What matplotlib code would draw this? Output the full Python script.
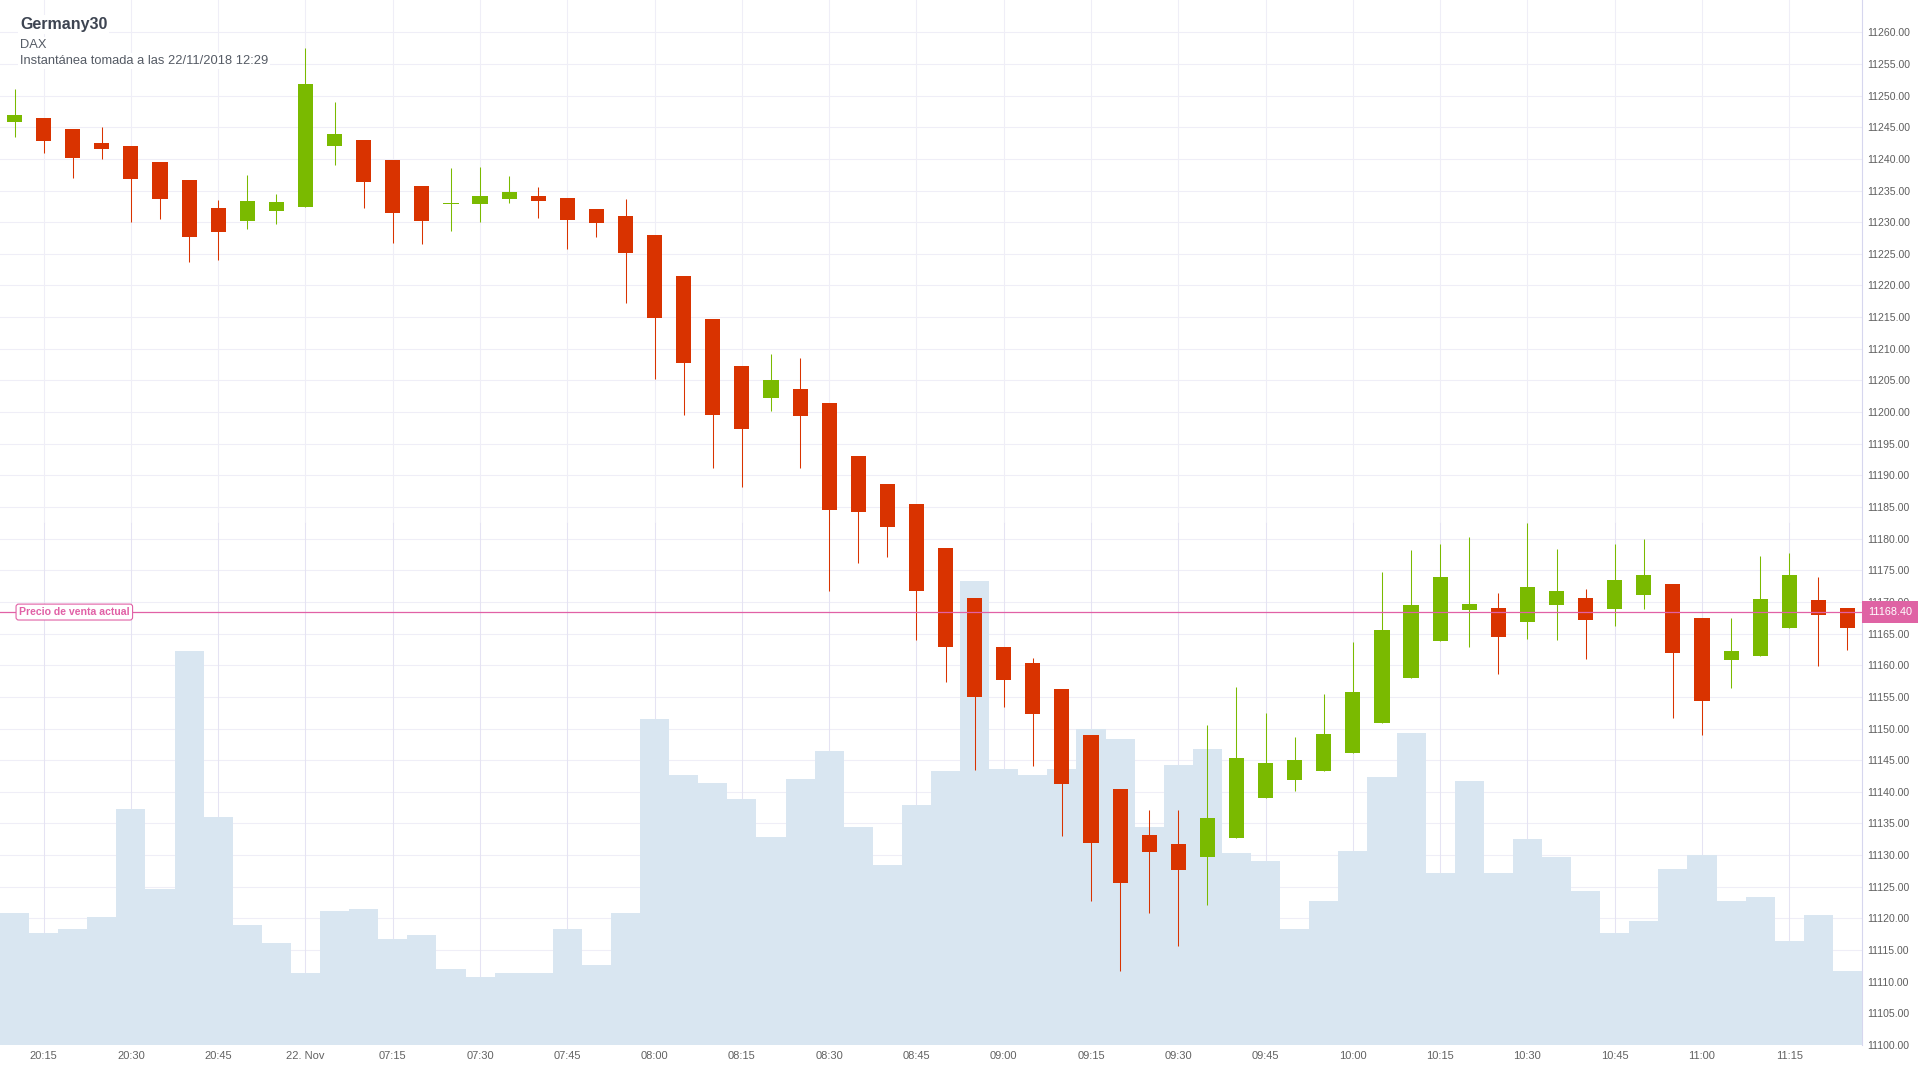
import numpy as np
import pandas as pd
import matplotlib
matplotlib.use("Agg")
import matplotlib.pyplot as plt
import matplotlib.transforms as mtransforms


# -------------------------------------------------
# Data (5 minute candles, Germany30)
# -------------------------------------------------

OPENS = [
    11245.9, 11246.4, 11244.7, 11242.5, 11242.0, 11239.5, 11236.6, 11232.2,
    11230.2, 11231.8, 11232.4, 11242.1, 11243.0, 11239.8, 11235.7, 11232.9,
    11232.9, 11233.6, 11234.2, 11233.8, 11232.1, 11231.0, 11228.0, 11221.5,
    11214.7, 11207.2, 11202.2, 11203.7, 11201.5, 11193.1, 11188.7, 11185.4,
    11178.6, 11170.7, 11162.9, 11160.3, 11156.3, 11148.9, 11140.4, 11133.1,
    11131.8, 11129.7, 11132.7, 11139.0, 11141.8, 11143.3, 11146.1, 11150.8,
    11158.0, 11163.8, 11168.7, 11169.1, 11166.8, 11169.5, 11170.6, 11168.9,
    11171.1, 11172.8, 11167.4, 11160.9, 11161.5, 11165.9, 11170.3, 11169.1,
]

HIGHS = [
    11251.0, 11246.4, 11244.7, 11245.0, 11242.0, 11239.5, 11236.6, 11233.5,
    11237.4, 11234.4, 11257.5, 11249.0, 11243.0, 11239.8, 11235.7, 11238.5,
    11238.7, 11237.3, 11235.6, 11233.8, 11232.1, 11233.7, 11228.0, 11221.5,
    11214.7, 11207.2, 11209.2, 11208.6, 11201.5, 11193.1, 11188.7, 11185.4,
    11178.6, 11170.7, 11162.9, 11161.2, 11156.3, 11148.9, 11140.4, 11137.2,
    11137.1, 11150.5, 11156.5, 11152.5, 11148.7, 11155.5, 11163.7, 11174.8,
    11178.2, 11179.1, 11180.2, 11171.4, 11182.4, 11178.4, 11172.1, 11179.1,
    11179.9, 11172.8, 11167.4, 11167.5, 11177.2, 11177.7, 11173.9, 11169.1,
]

LOWS = [
    11243.5, 11241.0, 11237.0, 11240.0, 11230.0, 11230.5, 11223.7, 11224.0,
    11228.9, 11229.7, 11232.4, 11239.1, 11232.3, 11226.7, 11226.6, 11228.6,
    11230.1, 11233.1, 11230.7, 11225.8, 11227.6, 11217.2, 11205.2, 11199.6,
    11191.1, 11188.1, 11200.1, 11191.1, 11171.8, 11176.1, 11177.1, 11164.0,
    11157.3, 11143.5, 11153.4, 11144.1, 11133.0, 11122.7, 11111.7, 11120.8,
    11115.6, 11122.1, 11132.7, 11139.0, 11140.1, 11143.3, 11146.1, 11150.8,
    11158.0, 11163.8, 11162.9, 11158.6, 11164.2, 11164.0, 11161.0, 11166.2,
    11168.9, 11151.6, 11149.0, 11156.4, 11161.5, 11165.9, 11159.9, 11162.4,
]

CLOSES = [
    11246.9, 11242.9, 11240.2, 11241.6, 11236.8, 11233.7, 11227.7, 11228.5,
    11233.3, 11233.2, 11251.8, 11243.9, 11236.4, 11231.5, 11230.2, 11233.1,
    11234.2, 11234.8, 11233.3, 11230.3, 11229.9, 11225.1, 11214.8, 11207.8,
    11199.5, 11197.4, 11205.0, 11199.3, 11184.5, 11184.2, 11181.9, 11171.7,
    11162.9, 11155.0, 11157.6, 11152.3, 11141.2, 11131.9, 11125.6, 11130.5,
    11127.6, 11135.8, 11145.4, 11144.6, 11145.0, 11149.1, 11155.7, 11165.5,
    11169.5, 11174.0, 11169.6, 11164.5, 11172.3, 11171.7, 11167.2, 11173.4,
    11174.3, 11162.0, 11154.4, 11162.2, 11170.4, 11174.3, 11167.9, 11165.9,
]

# volume in relative units (axis is hidden in the original)
VOLUMES = [
    33, 28, 29, 32, 59, 39, 98.5, 57,
    30, 25.5, 18, 33.5, 34, 26.5, 27.5, 19,
    17, 18, 18, 29, 20, 33, 81.5, 67.5,
    65.5, 61.5, 52, 66.5, 73.5, 54.5, 45, 60,
    68.5, 116, 69, 67.5, 69, 79, 76.5, 54.5,
    70, 74, 48, 46, 29, 36, 48.5, 67,
    78, 43, 66, 43, 51.5, 47, 38.5, 28,
    31, 44, 47.5, 36, 37, 26, 32.5, 18.5,
]

SESSION_1 = pd.date_range("2018-11-21 20:10", "2018-11-21 20:55", freq="5min")
SESSION_2 = pd.date_range("2018-11-22 07:00", "2018-11-22 11:25", freq="5min")
TIMES = list(SESSION_1) + list(SESSION_2)

CURRENT_PRICE = 11168.40

TITLE = "Germany30"
SUBTITLE = "DAX"
SNAPSHOT = "Instantánea tomada a las 22/11/2018 12:29"


# -------------------------------------------------
# Style
# -------------------------------------------------

UP = "#7aba00"
DOWN = "#d93300"
VOL = "#d9e6f1"
PINK = "#e161a6"
GRID = "#efeef7"
GRID_LOW = "#e5e3f3"
FONT = ["Liberation Sans", "DejaVu Sans"]

plt.rcParams["font.family"] = FONT

W, H = 1920, 1080
PLOT_W, PLOT_H, PLOT_B = 1862, 1045, 35

Y_MIN, Y_MAX = 11100, 11265.1


# -------------------------------------------------
# Figure
# -------------------------------------------------

fig = plt.figure(figsize=(W / 100, H / 100), dpi=100)
rect = [0, PLOT_B / H, PLOT_W / W, PLOT_H / H]

ax = fig.add_axes(rect)
ax_vol = fig.add_axes(rect)
ax_c = fig.add_axes(rect)

n = len(OPENS)
x = np.arange(n)

for a in (ax, ax_vol, ax_c):
    a.set_xlim(-0.5, n - 0.5)

ax.set_ylim(Y_MIN, Y_MAX)
ax_c.set_ylim(Y_MIN, Y_MAX)
ax_vol.set_ylim(0, PLOT_H / 4)

ax_vol.patch.set_visible(False)
ax_c.patch.set_visible(False)
ax_vol.axis("off")
ax_c.axis("off")


# -------------------------------------------------
# Grid and axes
# -------------------------------------------------

yticks = np.arange(11100, 11261, 5)

for p in yticks:
    ax.axhline(p, color=GRID, lw=0.75, zorder=0)

tick_pos = []
tick_lab = []
for i, t in enumerate(TIMES):
    if t.minute % 15 == 0:
        tick_pos.append(i)
        if t.hour == 7 and t.minute == 0:
            tick_lab.append("22. Nov")
        else:
            tick_lab.append(t.strftime("%H:%M"))

for xp in tick_pos:
    ax.axvline(xp, ymin=0.5, ymax=1, color=GRID, lw=0.75, zorder=0)
    ax.axvline(xp, ymin=0, ymax=0.5, color=GRID_LOW, lw=0.75, zorder=0)

ax.set_xticks(tick_pos)
ax.set_xticklabels(tick_lab)
ax.yaxis.tick_right()
ax.set_yticks(yticks)
ax.set_yticklabels([f"{p:.2f}" for p in yticks])

ax.tick_params(axis="x", length=0, pad=4, labelsize=8, labelcolor="#626262")
ax.tick_params(axis="y", length=0, pad=4, labelsize=7.6, labelcolor="#5e5e5e")

for side in ("top", "left", "bottom"):
    ax.spines[side].set_visible(False)
ax.spines["right"].set_color("#d6d6ee")
ax.spines["right"].set_linewidth(0.8)


# -------------------------------------------------
# Volume
# -------------------------------------------------

edges = np.arange(n + 1) - 0.5
ax_vol.stairs(VOLUMES, edges, fill=True, color=VOL, lw=0)


# -------------------------------------------------
# Candles
# -------------------------------------------------

opens = np.array(OPENS)
closes = np.array(CLOSES)
up = closes >= opens
colors = np.where(up, UP, DOWN)

ax_c.vlines(x, LOWS, HIGHS, colors=colors, lw=0.75, zorder=2)

bottoms = np.minimum(opens, closes)
heights = np.maximum(np.abs(closes - opens), 0.18)
ax_c.bar(x, heights, bottom=bottoms, width=0.52, color=colors, lw=0, zorder=3)


# -------------------------------------------------
# Current price line
# -------------------------------------------------

blend = mtransforms.blended_transform_factory(ax_c.transAxes, ax_c.transData)

ax_c.axhline(CURRENT_PRICE, color=PINK, lw=0.9, zorder=4)

ax_c.text(
    19 / PLOT_W, CURRENT_PRICE, "Precio de venta actual",
    transform=blend,
    ha="left", va="center", fontsize=7.6, fontweight="bold", color=PINK, zorder=5,
    bbox=dict(boxstyle="round,pad=0.28,rounding_size=0.25", fc="white", ec=PINK, lw=0.8),
)

ax_c.text(
    1 + 5.7 / PLOT_W, CURRENT_PRICE, f"{CURRENT_PRICE:.2f}",
    transform=blend,
    ha="left", va="center", fontsize=7.8, color="white", zorder=6, clip_on=False,
    bbox=dict(boxstyle="square,pad=0.55", fc="#df63a4", ec="none"),
)


# -------------------------------------------------
# Titles
# -------------------------------------------------

box = dict(fc="white", ec="none", pad=1.5)

fig.text(20 / W, 1 - 29.3 / H, TITLE, fontsize=11.5, fontweight="bold",
         color="#3d4451", va="baseline", bbox=box)
fig.text(20 / W, 1 - 47.7 / H, SUBTITLE, fontsize=9.3,
         color="#555b65", va="baseline", bbox=box)
fig.text(20 / W, 1 - 64.3 / H, SNAPSHOT, fontsize=9.3,
         color="#555b65", va="baseline", bbox=box)

fig.savefig("out.png", dpi=100)
plt.close(fig)
